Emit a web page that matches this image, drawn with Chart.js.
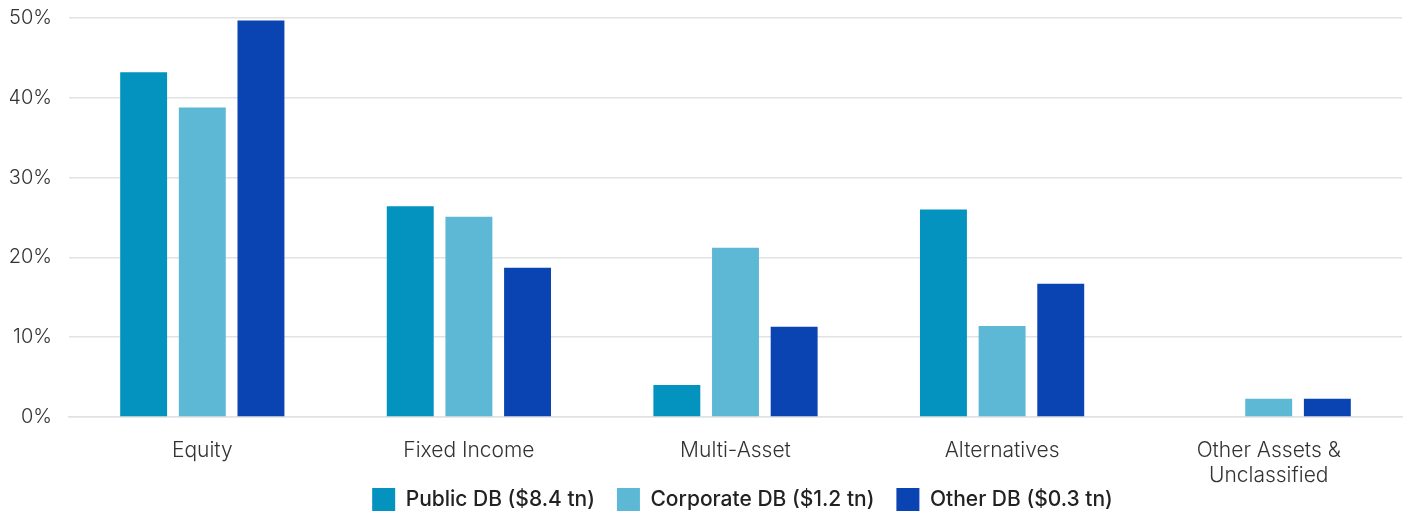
<!DOCTYPE html>
<html lang="en">
<head>
    <meta charset="UTF-8">
    <title>DB Asset Allocation</title>
    <script src="https://cdn.jsdelivr.net/npm/chart.js"></script>
    <style>
        html, body { margin: 0; padding: 0; background: #fff; }
        #wrap { width: 1405px; height: 514px; }
    </style>
</head>
<body>
    <div id="wrap"><canvas id="myChart" width="1405" height="514"></canvas></div>
    <script>
        const categories = ['Equity', 'Fixed Income', 'Multi-Asset', 'Alternatives', ['Other Assets &', 'Unclassified']];
        const seriesNames = ['Public DB ($8.4 tn)', 'Corporate DB ($1.2 tn)', 'Other DB ($0.3 tn)'];
        const publicDB = [43.2, 26.4, 4.0, 26.0, 0];
        const corporateDB = [38.8, 25.1, 21.2, 11.4, 2.3];
        const otherDB = [49.7, 18.7, 11.3, 16.7, 2.3];
        const colors = ['#0393BE', '#5CB8D4', '#0A43B2'];

        Chart.defaults.font.family = 'Inter, "Noto Sans", sans-serif';

        // x labels may hang into the legend band (2-line last label),
        // legend nudged a bit right like the original
        const layoutTweaks = {
            id: 'layoutTweaks',
            afterLayout(chart) {
                const x = chart.scales.x;
                x.bottom = chart.height;
                x.height = x.bottom - x.top;
                chart.legend.left += 7;
                chart.legend.right += 7;
            }
        };

        const ctx = document.getElementById('myChart').getContext('2d');
        const chart = new Chart(ctx, {
            type: 'bar',
            data: {
                labels: categories,
                datasets: [publicDB, corporateDB, otherDB].map((d, i) => ({
                    label: seriesNames[i],
                    data: d,
                    backgroundColor: colors[i],
                    borderWidth: 0,
                    categoryPercentage: 0.66,
                    barPercentage: 0.8
                }))
            },
            options: {
                responsive: false,
                animation: false,
                layout: { padding: { top: 0, right: 3, left: 10, bottom: -7 } },
                scales: {
                    y: {
                        min: 0,
                        max: 50,
                        ticks: {
                            stepSize: 10,
                            padding: 17,
                            color: '#333',
                            font: { size: 20, weight: '300' },
                            callback: v => v + '%'
                        },
                        grid: { color: '#e2e2e2', lineWidth: 1.5, drawTicks: false },
                        border: { display: false },
                        afterFit: scale => {
                            scale.width = 59;
                            scale.paddingTop = 18;
                            scale.paddingBottom = 0;
                        }
                    },
                    x: {
                        ticks: {
                            padding: 21,
                            color: '#333',
                            font: { size: 21, weight: '300' },
                            maxRotation: 0
                        },
                        grid: { display: false, drawTicks: false },
                        border: { color: '#e2e2e2', width: 1.5 },
                        afterFit: scale => { scale.height = 49; }
                    }
                },
                plugins: {
                    legend: {
                        position: 'bottom',
                        fullSize: false,
                        labels: {
                            boxWidth: 23,
                            boxHeight: 23,
                            padding: 22,
                            color: '#222',
                            font: { size: 21, weight: '500' }
                        }
                    },
                    tooltip: { enabled: false }
                }
            },
            plugins: [layoutTweaks]
        });
    </script>
</body>
</html>
